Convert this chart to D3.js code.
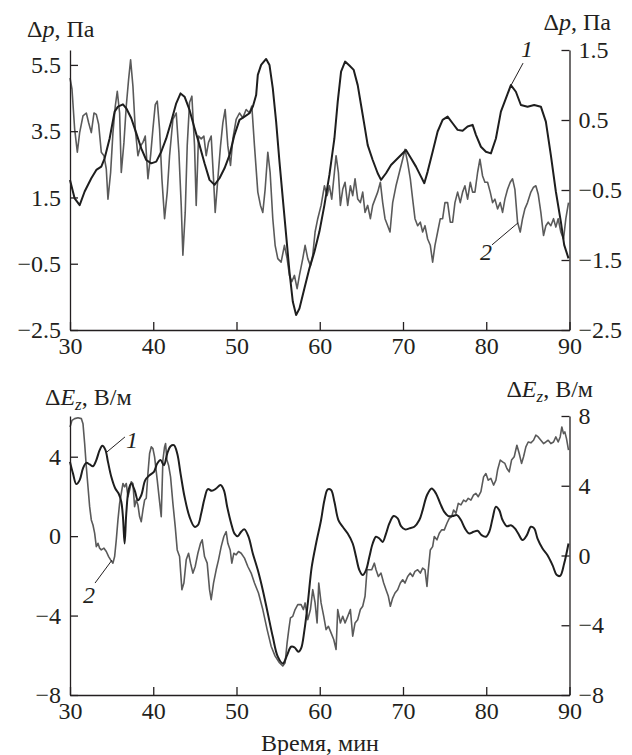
<!DOCTYPE html>
<html>
<head>
<meta charset="utf-8">
<script src="https://cdn.jsdelivr.net/npm/d3@7"></script>
<style>
  @font-face { font-family: "ChartSerif"; font-style: normal; src: local("Liberation Serif"), local("LiberationSerif-Regular"), local("Liberation Serif Regular"); }
  @font-face { font-family: "ChartSerif"; font-style: italic; src: local("Liberation Serif Italic"), local("LiberationSerif-Italic"); }
  html, body { margin: 0; padding: 0; background: #fff; }
</style>
</head>
<body>
<svg id="chart" width="632" height="755"></svg>
<script>
// ---- data -------------------------------------------------------------
const timeTicks = [30, 40, 50, 60, 70, 80, 90];
const pTicksLeft = [-2.5, -0.5, 1.5, 3.5, 5.5];
const pTicksRight = [-2.5, -1.5, -0.5, 0.5, 1.5];
const eTicksLeft = [-8, -4, 0, 4];
const eTicksRight = [-8, -4, 0, 4, 8];

// Δp, curve 1 (left axis), [minute, Pa]
const pressure1 = [[30.00,2.03],[30.56,1.47],[31.16,1.27],[31.76,1.68],[32.56,2.08],[33.16,2.33],[33.76,2.43],[34.16,2.68],[34.76,3.28],[35.36,4.09],[35.76,4.24],[36.36,4.31],[36.76,4.19],[37.36,3.89],[37.96,3.44],[38.56,2.98],[39.16,2.63],[39.76,2.53],[40.36,2.58],[40.96,2.88],[41.56,3.28],[42.16,3.79],[42.76,4.34],[43.28,4.64],[43.76,4.54],[44.36,4.14],[44.96,3.59],[45.56,3.08],[46.16,2.53],[46.76,2.03],[47.36,1.88],[47.96,2.08],[48.56,2.38],[49.16,2.78],[49.76,3.39],[50.36,3.84],[50.96,3.94],[51.56,4.04],[51.96,4.24],[52.36,4.59],[52.56,5.20],[52.96,5.50],[53.56,5.68],[53.96,5.50],[54.36,4.79],[54.76,3.79],[55.16,2.58],[55.56,1.47],[55.96,0.37],[56.36,-0.74],[56.76,-1.64],[57.16,-2.05],[57.56,-1.85],[58.16,-1.24],[58.76,-0.64],[59.36,-0.14],[59.96,0.47],[60.56,1.27],[61.16,2.18],[61.76,3.28],[62.16,4.39],[62.56,5.30],[63.04,5.60],[63.56,5.48],[64.08,5.35],[64.56,4.89],[64.96,4.29],[65.36,3.69],[65.76,3.08],[66.36,2.63],[66.96,2.23],[67.36,2.03],[67.96,2.23],[68.56,2.48],[69.16,2.63],[69.76,2.78],[70.36,2.93],[70.96,2.68],[71.56,2.43],[72.16,2.13],[72.56,1.93],[72.96,2.28],[73.56,2.88],[74.16,3.49],[74.76,3.84],[75.36,3.94],[75.96,3.74],[76.56,3.54],[77.16,3.51],[77.76,3.64],[78.36,3.69],[78.76,3.39],[79.36,3.03],[79.96,2.88],[80.56,2.83],[81.16,3.28],[81.76,4.09],[82.36,4.49],[82.96,4.89],[83.56,4.69],[84.16,4.29],[84.96,4.24],[85.76,4.29],[86.56,4.24],[87.16,3.79],[87.76,2.78],[88.36,1.68],[88.96,0.77],[89.36,0.07],[89.88,-0.34]];

// Δp, curve 2 (right axis), [minute, Pa]
const pressure2 = [[30.00,1.10],[30.24,0.94],[30.56,0.37],[30.88,0.04],[31.16,0.32],[31.56,0.56],[31.96,0.60],[32.24,0.46],[32.56,0.32],[32.88,0.60],[33.16,0.58],[33.44,0.44],[33.76,0.04],[34.08,-0.01],[34.36,-0.20],[34.56,-0.63],[34.88,-0.25],[35.16,0.32],[35.44,0.70],[35.68,0.91],[35.96,0.60],[36.16,-0.25],[36.48,0.18],[36.76,0.70],[37.04,1.08],[37.28,1.36],[37.56,0.98],[37.84,0.37],[38.16,-0.01],[38.48,0.13],[38.76,0.18],[39.04,0.27],[39.36,-0.34],[39.68,-0.01],[39.96,0.37],[40.24,0.72],[40.48,0.77],[40.76,0.37],[41.04,-0.34],[41.36,-0.91],[41.68,-0.53],[41.96,-0.01],[42.36,0.51],[42.76,0.60],[43.08,0.04],[43.36,-0.72],[43.56,-1.43],[43.84,-0.82],[44.08,0.13],[44.36,0.75],[44.64,0.84],[44.96,0.13],[45.16,-0.72],[45.44,0.27],[45.76,0.23],[46.08,0.27],[46.36,-0.01],[46.64,0.18],[46.96,0.27],[47.24,-0.34],[47.44,-0.82],[47.76,-0.34],[48.08,0.13],[48.36,0.46],[48.64,0.65],[48.96,0.13],[49.28,-0.15],[49.56,0.23],[49.96,0.51],[50.36,0.60],[50.76,0.53],[51.16,0.65],[51.56,0.60],[51.84,0.70],[52.16,0.13],[52.56,-0.53],[52.88,-0.72],[53.16,-0.82],[53.44,-0.49],[53.76,0.04],[54.04,-0.25],[54.36,-0.91],[54.64,-1.29],[54.96,-1.48],[55.36,-1.53],[55.76,-1.29],[56.08,-1.48],[56.36,-1.72],[56.64,-1.81],[56.96,-1.72],[57.28,-1.91],[57.56,-1.72],[57.96,-1.48],[58.24,-1.29],[58.56,-1.48],[58.88,-1.58],[59.16,-1.43],[59.44,-1.10],[59.76,-0.91],[60.16,-0.72],[60.56,-0.44],[60.88,-0.58],[61.16,-0.44],[61.44,-0.63],[61.76,-0.25],[61.96,-0.01],[62.24,-0.25],[62.48,-0.72],[62.76,-0.49],[63.04,-0.39],[63.36,-0.72],[63.68,-0.44],[63.96,-0.58],[64.24,-0.34],[64.56,-0.63],[64.88,-0.68],[65.16,-0.53],[65.44,-0.82],[65.76,-0.72],[66.08,-0.91],[66.36,-0.72],[66.64,-0.63],[66.96,-0.53],[67.28,-0.39],[67.56,-0.68],[67.84,-0.91],[68.16,-1.01],[68.44,-1.10],[68.76,-0.68],[69.16,-0.44],[69.56,-0.25],[69.96,-0.06],[70.24,0.08],[70.56,-0.11],[70.88,-0.34],[71.16,-0.63],[71.44,-0.91],[71.76,-1.01],[72.08,-0.96],[72.36,-1.10],[72.64,-1.01],[72.96,-1.20],[73.28,-1.29],[73.56,-1.53],[73.84,-1.29],[74.16,-1.10],[74.48,-0.91],[74.76,-0.91],[75.04,-0.68],[75.36,-0.68],[75.68,-0.96],[75.96,-0.96],[76.24,-0.68],[76.56,-0.53],[76.88,-0.68],[77.16,-0.53],[77.44,-0.44],[77.76,-0.63],[78.08,-0.39],[78.36,-0.53],[78.64,-0.53],[78.96,-0.25],[79.24,-0.06],[79.56,-0.30],[79.84,-0.39],[80.16,-0.39],[80.48,-0.53],[80.76,-0.68],[81.04,-0.63],[81.36,-0.77],[81.68,-0.68],[81.96,-0.82],[82.24,-0.63],[82.56,-0.49],[82.88,-0.39],[83.16,-0.34],[83.44,-0.49],[83.76,-0.96],[84.08,-1.10],[84.36,-0.91],[84.64,-0.77],[84.96,-0.68],[85.36,-0.53],[85.68,-0.46],[85.96,-0.44],[86.24,-0.56],[86.56,-0.82],[86.88,-1.15],[87.16,-1.01],[87.44,-0.96],[87.76,-1.01],[88.08,-0.91],[88.36,-1.03],[88.64,-0.91],[88.96,-1.10],[89.28,-1.20],[89.56,-0.91],[89.88,-0.68]];

// ΔEz, curve 1 (left axis), [minute, V/m]
const field1 = [[30.00,3.74],[30.36,3.15],[30.76,2.62],[31.16,2.82],[31.56,3.41],[31.96,3.69],[32.36,3.61],[32.76,3.52],[33.16,3.83],[33.56,4.33],[33.88,4.55],[34.24,4.36],[34.56,3.74],[34.96,2.99],[35.44,2.40],[35.84,2.15],[36.16,1.73],[36.36,0.97],[36.56,-0.37],[36.76,1.14],[37.04,2.32],[37.36,2.65],[37.76,2.32],[38.16,1.81],[38.56,2.06],[39.04,2.82],[39.56,3.07],[40.08,3.24],[40.48,3.66],[40.88,3.83],[41.28,3.57],[41.68,4.16],[42.08,4.53],[42.48,4.58],[42.88,4.16],[43.28,3.15],[43.76,1.98],[44.36,0.97],[44.96,0.47],[45.36,0.55],[45.76,1.14],[46.16,1.90],[46.56,2.37],[47.04,2.28],[47.56,2.40],[48.08,2.57],[48.48,2.32],[48.88,1.48],[49.36,0.64],[49.76,0.13],[50.16,0.00],[50.56,0.22],[50.96,0.34],[51.44,-0.03],[51.96,-0.87],[52.56,-1.71],[53.16,-2.72],[53.76,-3.89],[54.36,-5.07],[54.96,-6.07],[55.56,-6.41],[56.08,-5.99],[56.56,-5.57],[56.96,-5.60],[57.44,-5.82],[57.76,-5.65],[58.16,-4.73],[58.56,-3.39],[59.04,-1.54],[59.56,-0.37],[60.16,0.81],[60.56,1.81],[60.96,2.35],[61.36,2.32],[61.76,1.73],[62.24,0.81],[62.76,0.47],[63.36,0.13],[63.96,-0.37],[64.36,-1.04],[64.76,-1.71],[65.16,-1.96],[65.56,-1.71],[65.96,-1.04],[66.36,-0.37],[66.76,-0.03],[67.16,-0.12],[67.56,-0.29],[67.96,0.13],[68.36,0.64],[68.88,1.01],[69.36,0.89],[69.76,0.50],[70.24,0.34],[70.76,0.39],[71.36,0.47],[71.96,0.81],[72.36,1.31],[72.88,2.06],[73.44,2.40],[73.96,2.15],[74.48,1.64],[74.96,1.22],[75.44,1.01],[75.96,1.01],[76.48,1.06],[76.96,0.81],[77.44,0.39],[77.96,0.13],[78.48,0.22],[78.96,0.27],[79.44,0.05],[79.96,-0.03],[80.36,0.22],[80.76,0.89],[81.16,1.48],[81.56,1.31],[81.96,0.81],[82.48,0.50],[82.96,0.55],[83.44,0.39],[83.84,0.13],[84.36,-0.20],[84.88,0.05],[85.36,0.47],[85.76,0.39],[86.16,-0.12],[86.76,-0.62],[87.36,-0.96],[87.96,-1.46],[88.48,-1.96],[88.88,-2.00],[89.36,-1.38],[89.88,-0.37]];

// ΔEz, curve 2 (right axis), [minute, V/m]
const field2 = [[30.00,7.37],[30.24,7.75],[30.56,7.85],[30.96,7.90],[31.36,7.85],[31.56,7.56],[31.76,6.42],[31.96,5.09],[32.16,3.94],[32.36,2.80],[32.56,2.04],[32.76,1.75],[32.96,1.28],[33.16,0.51],[33.36,0.70],[33.56,0.42],[33.76,0.32],[34.08,0.42],[34.36,0.23],[34.64,-0.06],[34.88,-0.25],[35.16,-0.44],[35.36,-0.06],[35.56,0.90],[35.76,2.04],[35.96,2.99],[36.16,3.56],[36.36,4.13],[36.56,3.94],[36.76,4.13],[36.96,3.37],[37.16,3.75],[37.36,4.23],[37.56,4.13],[37.76,2.80],[37.96,3.18],[38.16,2.90],[38.36,2.23],[38.56,1.94],[38.76,2.61],[38.96,3.18],[39.16,3.28],[39.36,4.70],[39.56,5.85],[39.76,6.23],[39.96,6.13],[40.16,5.66],[40.48,4.32],[40.76,3.09],[40.96,2.23],[41.16,5.47],[41.36,6.23],[41.48,6.42],[41.64,5.47],[41.84,5.18],[42.08,4.51],[42.36,2.99],[42.64,1.66],[42.88,0.32],[43.16,-0.06],[43.44,-1.96],[43.68,-1.58],[43.96,-0.25],[44.24,0.13],[44.48,-0.44],[44.76,-1.01],[45.04,-0.63],[45.36,0.13],[45.68,0.70],[45.88,0.90],[46.16,-0.06],[46.48,-0.44],[46.76,-1.96],[46.96,-2.53],[47.24,-1.58],[47.56,-0.82],[47.84,-0.25],[48.16,0.51],[48.48,1.09],[48.76,1.37],[48.96,0.70],[49.24,0.32],[49.44,-0.44],[49.68,0.13],[49.96,0.04],[50.24,0.23],[50.56,0.13],[50.96,-0.15],[51.36,-0.63],[51.76,-1.01],[52.16,-1.58],[52.64,-2.15],[53.16,-3.10],[53.68,-4.25],[54.16,-5.20],[54.64,-5.77],[55.16,-6.15],[55.56,-6.34],[55.84,-6.15],[56.08,-5.01],[56.28,-4.25],[56.48,-3.58],[56.76,-3.49],[57.04,-3.10],[57.36,-2.82],[57.76,-2.82],[58.04,-3.10],[58.24,-2.72],[58.56,-3.68],[58.88,-3.10],[59.16,-1.96],[59.44,-2.72],[59.68,-3.87],[59.88,-1.58],[60.16,-2.72],[60.48,-3.49],[60.76,-4.25],[61.04,-4.06],[61.36,-4.44],[61.68,-4.82],[61.96,-5.39],[62.16,-3.10],[62.48,-3.87],[62.76,-3.49],[63.04,-3.87],[63.36,-3.49],[63.68,-3.10],[63.96,-4.63],[64.24,-3.87],[64.56,-3.68],[64.88,-3.10],[65.16,-2.91],[65.44,-2.34],[65.68,-0.82],[65.96,-0.82],[66.24,-0.82],[66.56,-0.44],[66.76,-0.82],[67.04,-1.20],[67.36,-1.01],[67.68,-1.58],[67.96,-1.96],[68.24,-2.34],[68.48,-2.91],[68.76,-2.44],[69.04,-2.15],[69.36,-1.96],[69.68,-1.58],[69.96,-1.39],[70.24,-1.58],[70.56,-1.20],[70.88,-1.01],[71.16,-1.20],[71.44,-0.91],[71.76,-0.82],[72.08,-1.01],[72.36,-0.72],[72.64,-0.82],[72.88,-1.77],[73.04,-0.82],[73.28,0.32],[73.56,0.51],[73.76,1.09],[74.08,0.90],[74.36,1.28],[74.64,1.47],[74.96,1.47],[75.28,1.85],[75.56,2.13],[75.84,2.23],[76.08,2.61],[76.36,2.42],[76.64,2.99],[76.96,2.90],[77.28,3.18],[77.56,3.09],[77.84,3.28],[78.16,3.18],[78.48,3.47],[78.76,3.56],[79.04,3.37],[79.36,3.66],[79.68,4.51],[79.96,4.70],[80.24,4.32],[80.56,4.42],[80.88,4.04],[81.16,4.32],[81.36,4.90],[81.68,5.47],[81.96,5.37],[82.24,5.28],[82.48,4.99],[82.76,4.80],[83.04,5.47],[83.36,5.66],[83.68,6.32],[83.96,5.85],[84.24,5.28],[84.48,5.66],[84.76,6.23],[85.04,6.51],[85.36,6.46],[85.68,6.61],[85.96,6.90],[86.24,6.80],[86.56,6.61],[86.88,6.42],[87.16,6.51],[87.44,6.61],[87.76,6.42],[88.08,6.51],[88.36,6.80],[88.64,6.51],[88.88,6.80],[89.08,7.37],[89.28,6.99],[89.44,7.09],[89.64,6.70],[89.88,6.04]];

// ---- drawing ----------------------------------------------------------
const svg = d3.select("#chart");
const INK = "#231f20";
const FACE = '"Liberation Serif", ChartSerif';
const FONT = 24;

const x = d3.scaleLinear().domain([30, 90]).range([70, 569.5]);

// serif face and size on each text node, as style and as attribute
const face = (sel, size = FONT) => sel
  .attr("font-family", FACE).attr("font-size", size)
  .style("font-family", FACE).style("font-size", size + "px")
  .attr("fill", INK);

function drawPanel(cfg) {
  const g = svg.append("g");
  const yL = d3.scaleLinear().domain(cfg.leftDomain).range([cfg.bottom, cfg.top]);
  const yR = d3.scaleLinear().domain(cfg.rightDomain).range([cfg.bottom, cfg.top]);

  // curves: 2 underneath, 1 on top
  g.append("path").datum(cfg.curve2)
    .attr("fill", "none").attr("stroke", "#5a5a5a").attr("stroke-width", 1.6)
    .attr("stroke-linejoin", "round")
    .attr("d", d3.line().x(d => x(d[0])).y(d => yR(d[1])));
  g.append("path").datum(cfg.curve1)
    .attr("fill", "none").attr("stroke", "#1e1e1e").attr("stroke-width", 2)
    .attr("stroke-linejoin", "round")
    .attr("d", d3.line().curve(cfg.smooth ? d3.curveCatmullRom.alpha(0.5) : d3.curveLinear)
      .x(d => x(d[0])).y(d => yL(d[1])));

  // axes, ticks pointing inward
  const styleAxis = sel => {
    sel.attr("font-family", null).attr("font-size", null);
    sel.select(".domain").attr("stroke", INK).attr("stroke-width", 1.3);
    sel.selectAll(".tick line").attr("stroke", INK).attr("stroke-width", 1.3);
    sel.selectAll(".tick text").call(face);
  };
  g.append("g").attr("transform", `translate(0,${cfg.bottom})`)
    .call(d3.axisBottom(x).tickValues(timeTicks).tickFormat(d3.format("d"))
      .tickSizeInner(-8).tickSizeOuter(0).tickPadding(7))
    .call(styleAxis);
  g.append("g").attr("transform", `translate(${x.range()[0]},0)`)
    .call(d3.axisLeft(yL).tickValues(cfg.leftTicks).tickFormat(d3.format(cfg.fmt))
      .tickSizeInner(-8).tickSizeOuter(0).tickPadding(9))
    .call(styleAxis);
  g.append("g").attr("transform", `translate(${x.range()[1]},0)`)
    .call(d3.axisRight(yR).tickValues(cfg.rightTicks).tickFormat(d3.format(cfg.fmt))
      .tickSizeInner(-8).tickSizeOuter(0).tickPadding(9))
    .call(styleAxis);

  // axis titles
  cfg.titles.forEach(tt => {
    const t = g.append("text").attr("x", tt.x).attr("y", tt.y)
      .call(face).attr("text-anchor", tt.anchor);
    tt.parts.forEach(p => {
      const s = t.append("tspan").text(p.s);
      if (p.italic) s.attr("font-style", "italic").style("font-style", "italic");
      if (p.sub) s.attr("font-size", 17).style("font-size", "17px").attr("dy", 5);
      if (p.up) s.attr("dy", -5);
    });
  });

  // curve number labels with leader lines
  cfg.labels.forEach(lb => {
    const sc = lb.axis === "left" ? yL : yR;
    const ax = x(lb.t), ay = sc(lb.v);
    g.append("line").attr("x1", ax).attr("y1", ay)
      .attr("x2", ax + lb.dx).attr("y2", ay + lb.dy)
      .attr("stroke", INK).attr("stroke-width", 1);
    g.append("text").attr("x", ax + lb.tx).attr("y", ay + lb.ty)
      .attr("text-anchor", "middle").call(face)
      .attr("font-style", "italic").style("font-style", "italic").text(lb.text);
  });
}

const dpTitle = [{s: "Δ"}, {s: "p", italic: true}, {s: ", Па"}];
const deTitle = [{s: "Δ"}, {s: "E", italic: true}, {s: "z", italic: true, sub: true}, {s: ", В/м", up: true}];

drawPanel({
  top: 50, bottom: 330,
  leftDomain: [-2.5, 5.95], rightDomain: [-2.5, 1.5],
  leftTicks: pTicksLeft, rightTicks: pTicksRight, fmt: ".1f",
  curve1: pressure1, curve2: pressure2, smooth: false,
  titles: [
    {x: 27, y: 37, anchor: "start", parts: dpTitle},
    {x: 611, y: 30, anchor: "end", parts: dpTitle}
  ],
  labels: [
    {text: "1", axis: "left", t: 82.8, v: 4.8, dx: 13.5, dy: -25, tx: 17.5, ty: -31},
    {text: "2", axis: "right", t: 83.81, v: -0.97, dx: -26, dy: 22, tx: -32, ty: 37}
  ]
});

drawPanel({
  top: 416, bottom: 695,
  leftDomain: [-8, 6.05], rightDomain: [-8, 8],
  leftTicks: eTicksLeft, rightTicks: eTicksRight, fmt: "d",
  curve1: field1, curve2: field2, smooth: true,
  titles: [
    {x: 45, y: 405, anchor: "start", parts: deTitle},
    {x: 593, y: 397, anchor: "end", parts: deTitle}
  ],
  labels: [
    {text: "1", axis: "left", t: 34.44, v: 4.24, dx: 18, dy: -15, tx: 25, ty: -4},
    {text: "2", axis: "right", t: 35.05, v: -0.26, dx: -17, dy: 23, tx: -23, ty: 43}
  ]
});

svg.append("text").attr("x", 320).attr("y", 751).attr("text-anchor", "middle")
  .call(face).text("Время, мин");
</script>
</body>
</html>
